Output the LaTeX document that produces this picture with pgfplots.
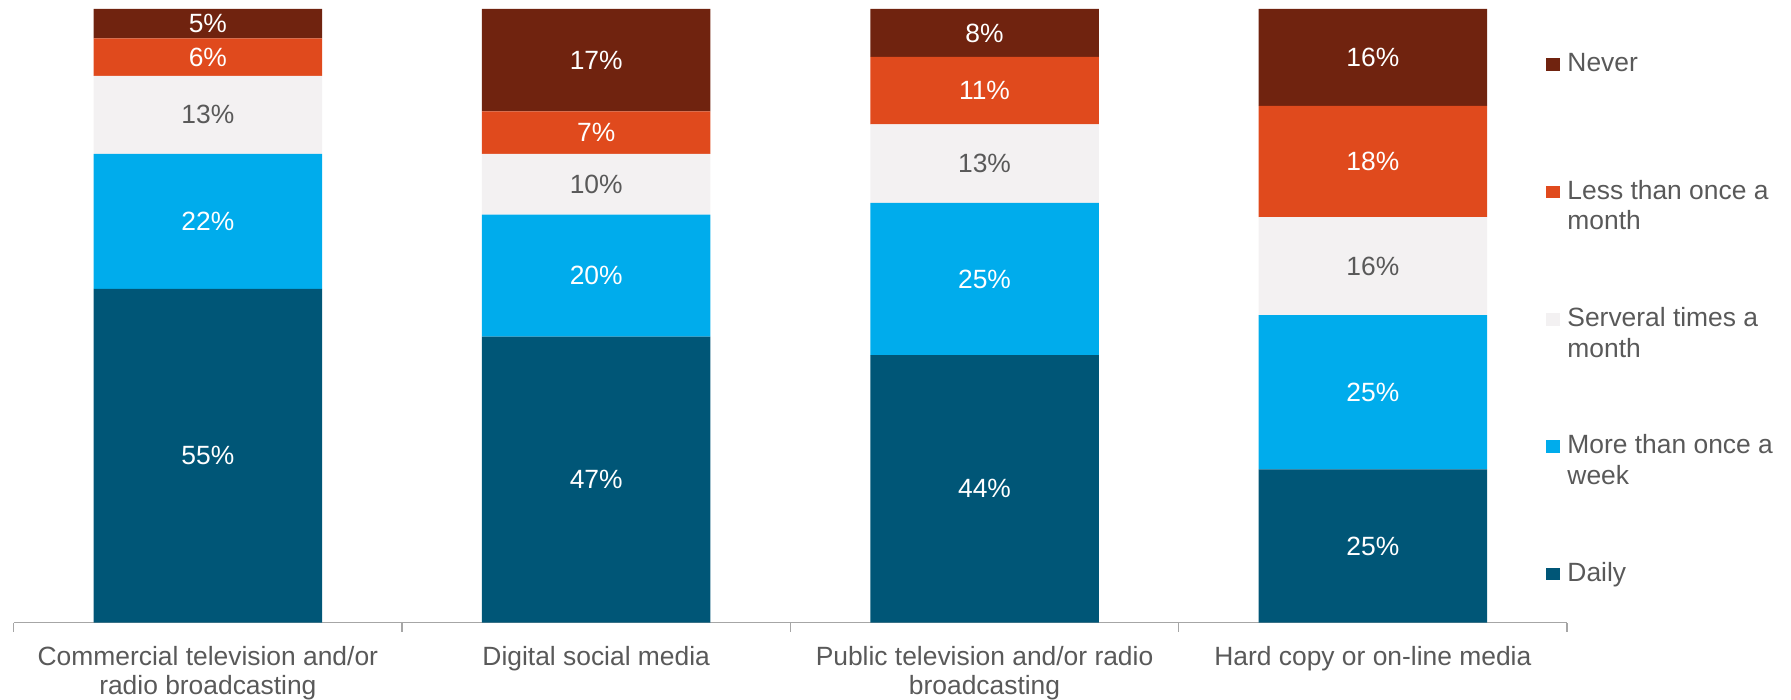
\documentclass[border=0pt]{standalone}
\usepackage{pgfplots}
\pgfplotsset{compat=1.18}
\usepackage{pgfplotstable}
\usepackage{fontspec}
\setmainfont{Liberation Sans}
\definecolor{cNever}{HTML}{70230F}
\definecolor{cLess}{HTML}{E04A1D}
\definecolor{cSev}{HTML}{F3F1F2}
\definecolor{cMore}{HTML}{00ACEC}
\definecolor{cDaily}{HTML}{005677}
\definecolor{axisgray}{HTML}{A6A6A6}
\definecolor{labelgray}{HTML}{595959}
\newcommand\lf{\fontsize{13.2}{15.4}\selectfont}
\newcommand\cf{\fontsize{13.2}{14.3}\selectfont}
\pgfplotstableread{
x d dl m ml s sl l ll n nl
0 54.4 55 22.0 22 12.7 13 6.1 6 4.8 5
1 46.6 47 19.9 20 9.9 10 6.9 7 16.7 17
2 43.6 44 24.8 25 12.8 13 11.0 11 7.8 8
3 25.0 25 25.1 25 16.0 16 18.1 18 15.8 16
}\datatable
\pgfplotsset{
  seg/.style n args={4}{fill=#1, draw=none, point meta=explicit symbolic,
    every node near coord/.append style={text=#4}},
}
\begin{document}
\begin{tikzpicture}
\useasboundingbox (-6.85pt,-38.65pt) rectangle (888.65pt,311.35pt);
\begin{axis}[
  at={(0pt,0pt)}, anchor=south west,
  scale only axis, width=776.65pt, height=306.85pt,
  ybar stacked, bar width=114.25pt,
  xmin=-0.5, xmax=3.5, ymin=0, ymax=100,
  axis x line*=bottom, axis y line=none,
  x axis line style={color=axisgray, line width=0.7pt},
  tick style={color=axisgray, line width=0.7pt},
  major tick length=0pt,
  xtick={0,1,2,3},
  xticklabels={{Commercial television and/or\\radio broadcasting},
               {Digital social media},
               {Public television and/or radio\\broadcasting},
               {Hard copy or on-line media}},
  extra x ticks={-0.5,0.5,1.5,2.5,3.5},
  extra x tick labels={},
  extra x tick style={major tick length=4.5pt, tick align=outside},
  xticklabel style={align=center, font=\cf, text=labelgray, inner sep=0pt, yshift=-11.7pt},
  nodes near coords={\pgfplotspointmeta\%},
  every node near coord/.append style={anchor=center, font=\lf},
  legend image code/.code={\fill[#1] (0pt,0.5pt) rectangle (7pt,6.8pt);},
  reverse legend,
  legend style={at={(rel axis cs:0.9865,0.931)}, anchor=north west,
    draw=none, fill=none, inner sep=0pt, row sep=33.7pt, column sep=3.5pt,
    font=\lf, text=labelgray, cells={anchor=base west},
    nodes={inner sep=0pt, text depth=20pt, text height=10pt}},
]
\addplot[seg={cDaily}{d}{dl}{white}] table[x=x, y=d, meta=dl] {\datatable};
\addlegendentry{Daily}
\addplot[seg={cMore}{m}{ml}{white}] table[x=x, y=m, meta=ml] {\datatable};
\addlegendentry{\begin{tabular}[t]{@{}l@{}}More than once a\\week\end{tabular}}
\addplot[seg={cSev}{s}{sl}{labelgray}] table[x=x, y=s, meta=sl] {\datatable};
\addlegendentry{\begin{tabular}[t]{@{}l@{}}Serveral times a\\month\end{tabular}}
\addplot[seg={cLess}{l}{ll}{white}] table[x=x, y=l, meta=ll] {\datatable};
\addlegendentry{\begin{tabular}[t]{@{}l@{}}Less than once a\\month\end{tabular}}
\addplot[seg={cNever}{n}{nl}{white}] table[x=x, y=n, meta=nl] {\datatable};
\addlegendentry{Never}
\end{axis}
\end{tikzpicture}
\end{document}
